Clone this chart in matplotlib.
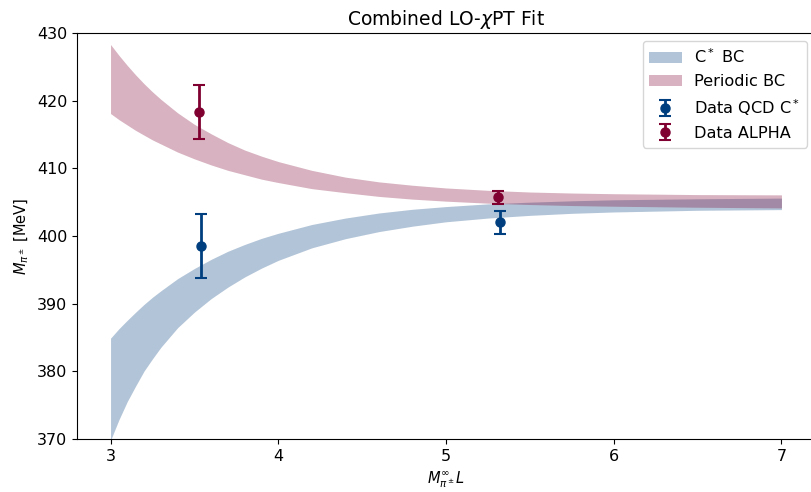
import numpy as np
import matplotlib
matplotlib.use("Agg")
import matplotlib.pyplot as plt

# ── Values ──────────────────────────────────────────────────
band_x = [3.0, 3.05, 3.1, 3.15, 3.2, 3.25, 3.3, 3.4, 3.5, 3.6, 3.7, 3.8,
          3.9, 4.0, 4.2, 4.4, 4.6, 4.8, 5.0, 5.25, 5.5, 5.75, 6.0, 6.5, 7.0]

cstar_lo = [369.8, 372.85, 375.55, 377.85, 380.05, 381.85, 383.55, 386.45,
            388.75, 390.75, 392.45, 393.95, 395.25, 396.4, 398.25, 399.6,
            400.65, 401.45, 402.1, 402.65, 403.05, 403.35, 403.55, 403.8,
            403.9]
cstar_hi = [384.9, 386.3, 387.55, 388.75, 389.9, 390.95, 391.9, 393.7,
            395.2, 396.55, 397.75, 398.75, 399.65, 400.4, 401.7, 402.65,
            403.4, 403.95, 404.35, 404.75, 405.0, 405.2, 405.35, 405.5,
            405.6]

per_lo = [418.1, 417.2, 416.4, 415.6, 414.9, 414.2, 413.6, 412.4, 411.4,
          410.5, 409.7, 409.05, 408.4, 407.9, 407.0, 406.4, 405.85, 405.45,
          405.15, 404.85, 404.65, 404.5, 404.4, 404.25, 404.15]
per_hi = [428.3, 426.7, 425.2, 423.8, 422.5, 421.3, 420.2, 418.2, 416.5,
          415.1, 413.8, 412.7, 411.8, 411.0, 409.7, 408.7, 408.0, 407.5,
          407.1, 406.75, 406.5, 406.35, 406.25, 406.12, 406.08]

qcd_x = [3.54, 5.32]
qcd_y = [398.5, 402.0]
qcd_err = [4.7, 1.7]

alpha_x = [3.53, 5.31]
alpha_y = [418.3, 405.7]
alpha_err = [3.95, 1.0]

BLUE = "#003f7f"
RED = "#7f0030"

fig = plt.figure(figsize=(8.11, 4.92), dpi=100)
# axes run slightly past the right edge, like the cropped original
ax = fig.add_axes([77 / 811, 53 / 492, 738 / 811, 406 / 492])

ax.fill_between(band_x, cstar_lo, cstar_hi, color=BLUE, alpha=0.3,
                linewidth=0, label=r"C$^*$ BC")
ax.fill_between(band_x, per_lo, per_hi, color=RED, alpha=0.3,
                linewidth=0, label="Periodic BC")

ax.errorbar(qcd_x, qcd_y, yerr=qcd_err, fmt="o", color=BLUE, ms=6.5,
            elinewidth=2, capsize=4, capthick=1.5, label=r"Data QCD C$^*$")
ax.errorbar(alpha_x, alpha_y, yerr=alpha_err, fmt="o", color=RED, ms=6.5,
            elinewidth=2, capsize=4, capthick=1.5, label="Data ALPHA")

ax.set_xlim(2.8, 7.2)
ax.set_ylim(370, 430)
ax.set_xticks([3, 4, 5, 6, 7])
ax.tick_params(labelsize=11.5)

ax.set_title(r"Combined LO-$\chi$PT Fit", fontsize=13.5)
ax.set_xlabel(r"$M_{\pi^\pm}^\infty L$", fontsize=10.5)
ax.set_ylabel(r"$M_{\pi^\pm}$ [MeV]", fontsize=10.5)

ax.legend(loc="upper right", fontsize=11.6)

fig.savefig("out.png", dpi=100)
